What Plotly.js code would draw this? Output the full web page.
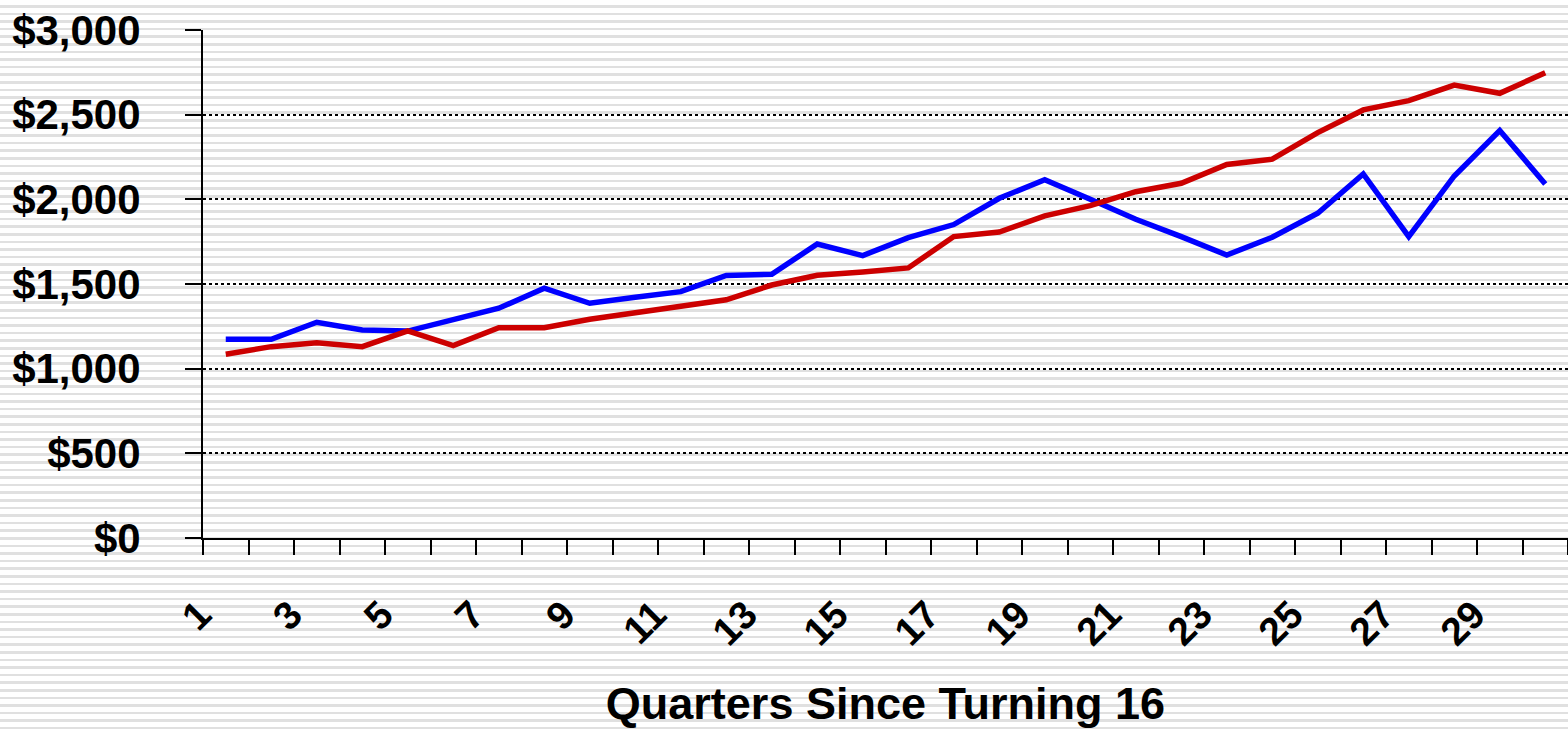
<!DOCTYPE html>
<html>
<head>
<meta charset="utf-8">
<script src="https://cdn.plot.ly/plotly-3.0.1.min.js"></script>
<style>
  html, body { margin: 0; padding: 0; }
  body {
    width: 1568px; height: 729px; overflow: hidden;
    background: repeating-linear-gradient(180deg, #ffffff 0px, #ffffff 5px, #e0e0e0 5px, #e0e0e0 7.6px);
  }
  #chart { width: 1568px; height: 729px; }
</style>
</head>
<body>
<div id="chart"></div>
<script>
// Quarters since turning 16
const quarters = [1,2,3,4,5,6,7,8,9,10,11,12,13,14,15,16,17,18,19,20,21,22,23,24,25,26,27,28,29,30];
// Blue series
const blueValues = [1173,1173,1274,1228,1222,1287,1357,1475,1386,1422,1455,1550,1558,1736,1668,1774,1851,2006,2116,2000,1882,1780,1671,1776,1918,2150,1780,2138,2406,2091];
// Red series
const redValues = [1085,1130,1153,1130,1223,1136,1242,1242,1292,1330,1369,1407,1494,1552,1571,1595,1780,1807,1902,1963,2045,2095,2206,2237,2394,2528,2583,2675,2626,2748];
// X tick labels (every other quarter)
const xTickVals = [1,3,5,7,9,11,13,15,17,19,21,23,25,27,29];
const xTickText = ["1","3","5","7","9","11","13","15","17","19","21","23","25","27","29"];
// Y ticks
const yTickVals = [0,500,1000,1500,2000,2500,3000];
const yTickText = ["$0","$500","$1,000","$1,500","$2,000","$2,500","$3,000"];

const traces = [
  { x: quarters, y: blueValues, type: 'scatter', mode: 'lines',
    line: { color: '#0000FF', width: 5.5 }, hoverinfo: 'skip' },
  { x: quarters, y: redValues, type: 'scatter', mode: 'lines',
    line: { color: '#CC0000', width: 5.5 }, hoverinfo: 'skip' }
];

const font = 'Liberation Sans, Arial, sans-serif';

const layout = {
  width: 1568, height: 729,
  margin: { l: 203, r: 0, t: 30, b: 191 },
  paper_bgcolor: 'rgba(0,0,0,0)',
  plot_bgcolor: 'rgba(0,0,0,0)',
  showlegend: false,
  font: { family: font, color: '#000' },
  xaxis: {
    range: [0.5, 30.5],
    tickvals: xTickVals, ticktext: xTickText,
    ticks: '', tickangle: -45,
    tickfont: { family: font, size: 39, weight: 'bold', color: '#000' },
    ticklabelstandoff: 36,
    ticklabelshift: -26,
    showgrid: false, zeroline: false,
    showline: true, linecolor: '#000', linewidth: 2,
    minor: { tick0: 0.5, dtick: 1, ticks: 'outside', ticklen: 15, tickwidth: 2, tickcolor: '#000', showgrid: false },
    title: { text: 'Quarters Since Turning 16', font: { family: font, size: 45, weight: 'bold', color: '#000' }, standoff: 40 }
  },
  yaxis: {
    range: [0, 3000],
    tickvals: yTickVals, ticktext: yTickText,
    ticks: 'outside', ticklen: 16, tickwidth: 2, tickcolor: '#000',
    tickfont: { family: font, size: 42, weight: 'bold', color: '#000' },
    ticklabelstandoff: 36,
    showline: true, linecolor: '#000', linewidth: 2,
    showgrid: true, gridcolor: '#000', gridwidth: 2, griddash: 'dot',
    zeroline: false
  }
};

Plotly.newPlot('chart', traces, layout, { staticPlot: true, displayModeBar: false });
</script>
</body>
</html>
